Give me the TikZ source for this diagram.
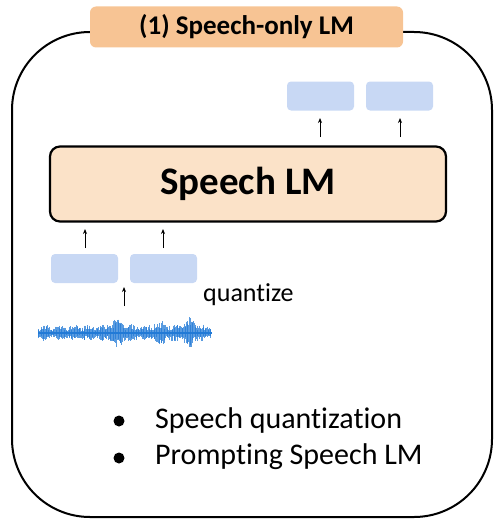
\documentclass[tikz,border=0pt]{standalone}
\usepackage{fontspec}
\setmainfont[Ligatures=NoCommon]{Carlito}
\usetikzlibrary{arrows.meta}
\definecolor{titleorange}{RGB}{247,196,148}
\definecolor{lmpeach}{RGB}{251,226,200}
\definecolor{tokblue}{RGB}{200,216,244}
\definecolor{wave}{RGB}{34,122,214}
\tikzset{
  token/.style={fill=tokblue, rounded corners=4pt, minimum width=67pt, minimum height=29pt, inner sep=0pt},
  uparrow/.style={-{Stealth[length=5pt,width=4pt]}, line width=0.8pt},
  listtext/.style={anchor=west, inner sep=0pt, font=\fontsize{30}{34}\selectfont},
  dot/.style={circle, fill=black, minimum size=11pt, inner sep=0pt},
}
\begin{document}
\begin{tikzpicture}[x=1pt,y=-1pt]
\useasboundingbox (0,0) rectangle (495,519);
% outer frame
\draw[line width=2pt, rounded corners=78pt] (12,32) rectangle (492,517);
% title tab
\node[fill=titleorange, rounded corners=6pt, minimum width=313pt, minimum height=41pt, inner sep=0pt,
      font=\bfseries\fontsize{27}{30}\selectfont] (title) at (246.5,27) {(1) Speech-only LM};
% language model block
\node[fill=lmpeach, draw, line width=2.2pt, rounded corners=10pt, minimum width=396pt, minimum height=75pt,
      inner sep=0pt, font=\bfseries\fontsize{39}{42}\selectfont] (lm) at (248,184) {Speech LM};
% output tokens
\node[token] (o1) at (320.5,96) {};
\node[token] (o2) at (399.5,96) {};
% input tokens
\node[token] (i1) at (84.5,268.5) {};
\node[token] (i2) at (163.5,268.5) {};
% arrows
\coordinate (a1s) at (320,137); \coordinate (a1e) at (320,118);
\coordinate (a2s) at (400,137); \coordinate (a2e) at (400,118);
\draw[uparrow] (a1s) -- (a1e);
\draw[uparrow] (a2s) -- (a2e);
\coordinate (b1s) at (85,248); \coordinate (b1e) at (85,229);
\coordinate (b2s) at (163,248); \coordinate (b2e) at (163,229);
\draw[uparrow] (b1s) -- (b1e);
\draw[uparrow] (b2s) -- (b2e);
\coordinate (qs) at (124,306); \coordinate (qe) at (124,287);
\draw[uparrow] (qs) -- (qe);
\node[anchor=west, inner sep=0pt, font=\fontsize{26}{29}\selectfont] (qtext) at (203,295) {quantize};
% waveform
\pgfmathsetseed{11}
\foreach \i in {0,...,240} {
  \pgfmathsetmacro{\xx}{38+\i*0.72}
  \pgfmathsetmacro{\env}{5+3.5*abs(sin(\i*9))+7*exp(-((\xx-118)/8)^2)+9*exp(-((\xx-190)/6)^2)+5*exp(-((\xx-160)/7)^2)}
  \pgfmathsetmacro{\amp}{\env*(0.35+0.65*rnd)}
  \pgfmathsetmacro{\ampd}{\env*(0.35+0.65*rnd)}
  \draw[wave, line width=0.7pt, opacity=0.75] (\xx,333-\amp) -- (\xx,333+\ampd);
}
\draw[wave, line width=2pt] (38,333) -- (212,333);
% bullet list
\node[dot] (d1) at (119,421) {};
\node[listtext] (l1) at (155,420) {Speech quantization};
\node[dot] (d2) at (119,458) {};
\node[listtext] (l2) at (155,457) {Prompting Speech LM};
\end{tikzpicture}
\end{document}
